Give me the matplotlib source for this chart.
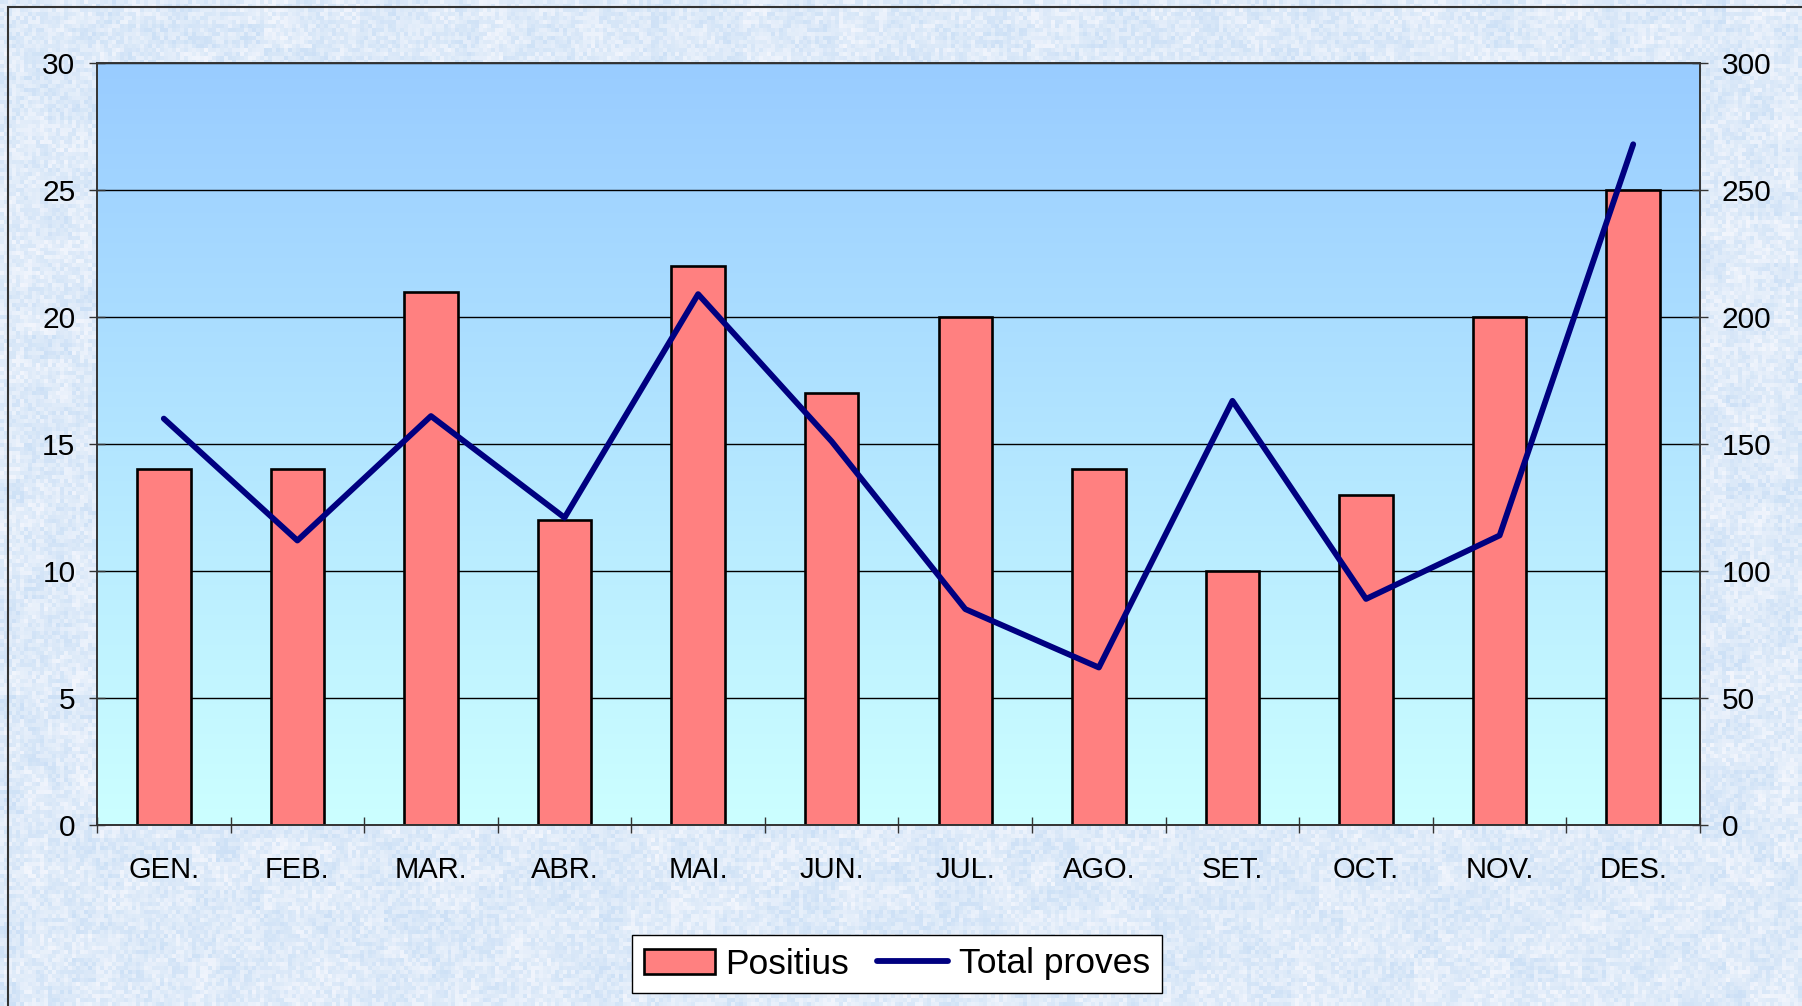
import numpy as np
import matplotlib
matplotlib.use('Agg')
import matplotlib.pyplot as plt
from matplotlib.colors import LinearSegmentedColormap
from matplotlib.patches import Rectangle

plt.rcParams['font.family'] = ['Liberation Sans', 'DejaVu Sans']

# data
months = ['GEN.', 'FEB.', 'MAR.', 'ABR.', 'MAI.', 'JUN.',
          'JUL.', 'AGO.', 'SET.', 'OCT.', 'NOV.', 'DES.']
positius = [14, 14, 21, 12, 22, 17, 20, 14, 10, 13, 20, 25]
total_proves = [160, 112, 161, 121, 209, 151, 85, 62, 167, 89, 114, 268]
left_ticks = [0, 5, 10, 15, 20, 25, 30]
right_ticks = [0, 50, 100, 150, 200, 250, 300]

fig = plt.figure(figsize=(18.02, 10.06), dpi=100)

# textured light blue background (decoration only)
bg = fig.add_axes([0, 0, 1, 1], zorder=-10)
rng = np.random.default_rng(3)
fine = rng.random((252, 451))
coarse = np.kron(rng.random((42, 76)), np.ones((6, 6)))[:252, :451]
tex = 0.65 * fine + 0.35 * coarse
bg_cmap = LinearSegmentedColormap.from_list('bgtex', ['#CCE0F6', '#DFEBF9', '#F3F6FD'])
bg.imshow(tex, cmap=bg_cmap, aspect='auto', interpolation='nearest', extent=[0, 1, 0, 1])
bg.set_xlim(0, 1)
bg.set_ylim(0, 1)
bg.axis('off')
bg.add_patch(Rectangle((8 / 1802, -0.1), 1.2, 1 - 7 / 1006 + 0.1, fill=False,
                       edgecolor='#333333', linewidth=1.5))

ax = fig.add_axes([97 / 1802, 1 - 825 / 1006, (1700 - 97) / 1802, (825 - 63) / 1006])
x = np.arange(len(months))

# plot area gradient
grad_cmap = LinearSegmentedColormap.from_list('plotgrad', ['#CCFFFF', '#99CCFF'])
ax.imshow(np.linspace(0, 1, 256).reshape(-1, 1), cmap=grad_cmap, origin='lower',
          aspect='auto', extent=[-0.5, len(months) - 0.5, 0, 30], zorder=0)

bars = ax.bar(x, positius, width=0.4, color='#FF8080', edgecolor='black',
              linewidth=1.9, zorder=2, label='Positius')
ax.set_xlim(-0.5, len(months) - 0.5)
ax.set_ylim(0, 30)
ax.set_yticks(left_ticks)
ax.yaxis.grid(True, color='black', linewidth=1.0)
ax.set_axisbelow(True)
for g in ax.get_ygridlines():
    g.set_zorder(1)

ax.set_xticks(np.arange(-0.5, len(months), 1.0))
ax.set_xticklabels([])
ax.set_xticks(x, minor=True)
ax.set_xticklabels(months, minor=True)
ax.tick_params(axis='x', which='major', direction='inout', length=11, width=1.0, color='#333333')
ax.tick_params(axis='x', which='minor', length=0, pad=22, labelsize=21)
ax.tick_params(axis='y', direction='inout', length=11, width=1.0, color='#333333',
               pad=10, labelsize=21.5)

for s in ['left', 'right', 'top', 'bottom']:
    ax.spines[s].set_color('#333333')
    ax.spines[s].set_linewidth(1.2)

ax2 = ax.twinx()
line, = ax2.plot(x, total_proves, color='#000080', linewidth=4.2,
                 solid_capstyle='round', zorder=3, label='Total proves')
ax2.set_ylim(0, 300)
ax2.set_yticks(right_ticks)
ax2.tick_params(axis='y', direction='inout', length=11, width=1.0, color='#333333',
                pad=10, labelsize=21.5)
for s in ['left', 'right', 'top', 'bottom']:
    ax2.spines[s].set_color('#333333')
    ax2.spines[s].set_linewidth(1.2)

leg = fig.legend([bars, line], ['Positius', 'Total proves'], ncol=2,
                 loc='center', bbox_to_anchor=(897 / 1802, 1 - 964 / 1006),
                 fontsize=25.5, frameon=True, fancybox=False, handlelength=2.0,
                 handletextpad=0.3, columnspacing=0.8, borderpad=0.35)
leg.get_frame().set_edgecolor('black')
leg.get_frame().set_linewidth(1.0)
leg.get_frame().set_facecolor('white')
leg.get_frame().set_alpha(1.0)

fig.savefig('out.png', dpi=100)
